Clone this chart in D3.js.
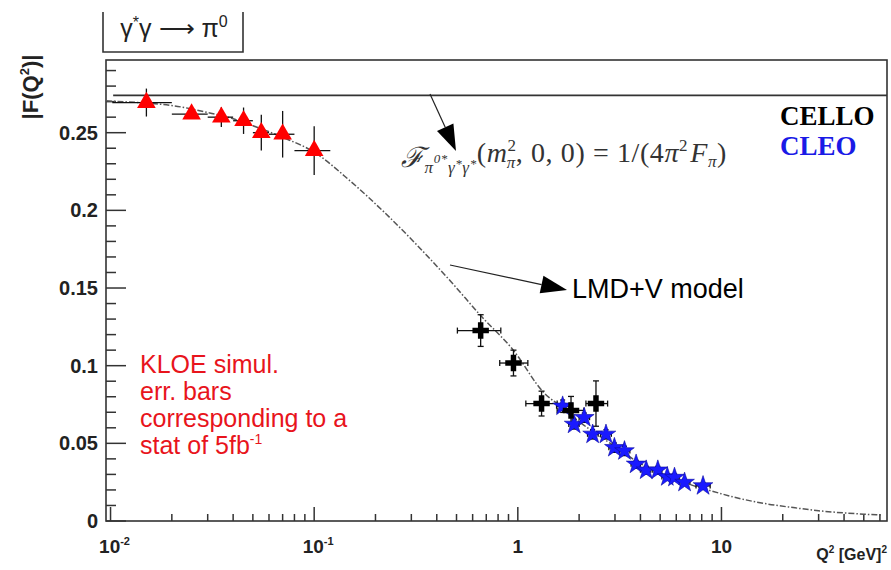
<!DOCTYPE html>
<html>
<head>
<meta charset="utf-8">
<script src="https://cdn.jsdelivr.net/npm/d3@7"></script>
<style>
body{margin:0;background:#fff;}
svg{display:block;}
text{font-family:"Liberation Sans",Arial,sans-serif;}
</style>
</head>
<body>
<div id="app"></div>
<script>
// KLOE simulation (red triangles)
const kloeQ2  = [0.015, 0.025, 0.035, 0.045, 0.055, 0.07, 0.1]
const kloeF   = [0.2694, 0.262, 0.260, 0.2577, 0.250, 0.249, 0.2385]
const kloeErr = [0.009, 0.003, 0.0064, 0.0085, 0.0115, 0.015, 0.0157]
const kloeLo  = [0.0102, 0.02, 0.03, 0.04, 0.05, 0.06, 0.08]
const kloeHi  = [0.02, 0.03, 0.04, 0.05, 0.06, 0.08, 0.12]

// CELLO (black crosses)
const celloQ2  = [0.657, 0.952, 1.308, 1.825, 2.42]
const celloF   = [0.1226, 0.1017, 0.0756, 0.0712, 0.0756]
const celloErr = [0.0102, 0.0083, 0.008, 0.009, 0.0146]
const celloLo  = [0.505, 0.815, 1.095, 1.56, 2.16]
const celloHi  = [0.825, 1.12, 1.56, 2.11, 2.76]

// CLEO (blue stars)
const cleoQ2  = [1.66, 1.89, 2.12, 2.33, 2.71, 2.98, 3.34, 3.81, 4.27, 4.87, 5.42, 5.88, 6.59, 8.12]
const cleoF   = [0.0739, 0.0622, 0.0665, 0.0558, 0.0558, 0.0472, 0.0451, 0.0365, 0.0327, 0.0327, 0.0284, 0.028, 0.0248, 0.0226]
const cleoErr = [0.004, 0.003, 0.003, 0.003, 0.003, 0.003, 0.003, 0.0025, 0.0025, 0.0025, 0.002, 0.002, 0.002, 0.002]
const cleoLo  = [1.55, 1.78, 2.0, 2.2, 2.55, 2.8, 3.15, 3.6, 4.0, 4.6, 5.1, 5.6, 6.2, 7.5]
const cleoHi  = [1.78, 2.0, 2.25, 2.48, 2.88, 3.15, 3.55, 4.0, 4.5, 5.1, 5.7, 6.2, 7.0, 8.8]

// LMD+V model curve
const modelQ2 = [0.0095, 0.015, 0.02, 0.03, 0.04, 0.05, 0.07, 0.1, 0.15, 0.22, 0.32, 0.47, 0.66, 0.95, 1.34, 1.7, 2.0, 2.5, 3.0, 4.0, 5.0, 6.5, 8.9, 12, 16.9, 22, 30, 40, 50, 62]
const modelF  = [0.2705, 0.269, 0.2675, 0.263, 0.259, 0.2545, 0.247, 0.2375, 0.219, 0.199, 0.1776, 0.154, 0.132, 0.110, 0.0827, 0.072, 0.064, 0.055, 0.048, 0.037, 0.031, 0.025, 0.0194, 0.0148, 0.0109, 0.0088, 0.0066, 0.0052, 0.0044, 0.0038]

// constant 1/(4 pi^2 F_pi)
const refValue = 0.274
const refStart = 0.0103

const yMajor = [0, 0.05, 0.1, 0.15, 0.2, 0.25]
const yLabels = ['0', '0.05', '0.1', '0.15', '0.2', '0.25']
const xMajor = [0.01, 0.1, 1, 10]
const xBase = ['10', '10', '1', '10']
const xSup = ['-2', '-1', '', '']

const kloeText = ['KLOE simul.', 'err. bars', 'corresponding to a', 'stat of 5fb']

const W = 891, H = 570
const padLeft = 106, padRight = 887, padTop = 60, padBottom = 521

const svg = d3.select('#app').append('svg')
    .attr('width', W).attr('height', H)
    .attr('viewBox', [0, 0, W, H])

const x = d3.scaleLog().domain([0.0095, 65]).range([padLeft, padRight])
const y = d3.scaleLinear().domain([0, 0.2968]).range([padBottom, padTop])

const frameColor = '#333'

// frame
svg.append('rect')
    .attr('x', padLeft).attr('y', padTop)
    .attr('width', padRight - padLeft).attr('height', padBottom - padTop)
    .attr('fill', 'none').attr('stroke', frameColor).attr('stroke-width', 1.6)

// y ticks (inward)
const yMinor = d3.range(0, 0.2961, 0.01)
svg.append('g').selectAll('line')
    .data(yMinor).enter().append('line')
    .attr('x1', padLeft).attr('x2', (d, i) => padLeft + (i % 5 == 0 ? 20 : 10))
    .attr('y1', d => y(d)).attr('y2', d => y(d))
    .attr('stroke', frameColor).attr('stroke-width', 1.5)

svg.append('g').selectAll('text')
    .data(yMajor).enter().append('text')
    .attr('x', padLeft - 8).attr('y', d => y(d) + 7)
    .attr('text-anchor', 'end')
    .style('font-size', '20px').style('font-weight', 'bold').style('fill', '#222')
    .text((d, i) => yLabels[i])

// x ticks (inward)
const xMinor = []
for (const dec of [0.01, 0.1, 1, 10]) {
    for (let k = 1; k <= 9; k++) {
        const v = dec * k
        if (v <= 65) xMinor.push({v: v, major: k == 1})
    }
}
svg.append('g').selectAll('line')
    .data(xMinor).enter().append('line')
    .attr('x1', d => x(d.v)).attr('x2', d => x(d.v))
    .attr('y1', padBottom).attr('y2', d => padBottom - (d.major ? 14 : 7))
    .attr('stroke', frameColor).attr('stroke-width', 1.5)

const xl = svg.append('g').selectAll('text')
    .data(xMajor).enter().append('text')
    .attr('x', (d, i) => x(d) + (xSup[i] ? 4 : 0)).attr('y', 553)
    .attr('text-anchor', 'middle')
    .style('font-size', '19px').style('font-weight', 'bold').style('fill', '#222')
xl.append('tspan').text((d, i) => xBase[i])
xl.append('tspan').attr('dy', -8).style('font-size', '11px').text((d, i) => xSup[i])

// axis titles
const xt = svg.append('text').attr('x', padRight).attr('y', 560)
    .attr('text-anchor', 'end')
    .style('font-size', '16px').style('font-weight', 'bold').style('fill', '#222')
xt.append('tspan').text('Q')
xt.append('tspan').attr('dy', -7).style('font-size', '10px').text('2')
xt.append('tspan').attr('dy', 7).text(' [GeV]')
xt.append('tspan').attr('dy', -7).style('font-size', '10px').text('2')

const yt = svg.append('text')
    .attr('transform', 'translate(38,87) rotate(-90)')
    .attr('text-anchor', 'middle')
    .style('font-size', '22px').style('font-weight', 'bold').style('fill', '#222')
yt.append('tspan').text('|F(Q')
yt.append('tspan').attr('dy', -9).style('font-size', '13px').text('2')
yt.append('tspan').attr('dy', 9).text(')|')

// title box
svg.append('path')
    .attr('d', 'M103,12 V52 H243 V12')
    .attr('fill', 'none').attr('stroke', frameColor).attr('stroke-width', 1.6)
const tt = svg.append('text').attr('x', 174).attr('y', 37)
    .attr('text-anchor', 'middle')
    .style('font-size', '25px').style('fill', '#222')
tt.append('tspan').text('γ')
tt.append('tspan').attr('dy', -9).style('font-size', '16px').text('*')
tt.append('tspan').attr('dy', 9).text('γ ⟶ π')
tt.append('tspan').attr('dy', -10).style('font-size', '16px').text('0')

// reference line
svg.append('line')
    .attr('x1', x(refStart)).attr('x2', padRight)
    .attr('y1', y(refValue)).attr('y2', y(refValue))
    .attr('stroke', frameColor).attr('stroke-width', 1.6)

// model curve
const model = modelQ2.map((q, i) => ({q: q, f: modelF[i]}))
svg.append('path')
    .datum(model)
    .attr('fill', 'none')
    .attr('stroke', '#555').attr('stroke-width', 1.5)
    .attr('stroke-dasharray', '6,2,1.5,2')
    .attr('d', d3.line().x(d => x(d.q)).y(d => y(d.f)).curve(d3.curveMonotoneX))

// error bars
function drawErrors(q2, f, err, lo, hi, cap, color) {
    const g = svg.append('g').attr('stroke', color).attr('stroke-width', 1.3)
    const pts = q2.map((q, i) => ({q: q, f: f[i], e: err[i], lo: lo[i], hi: hi[i]}))
    g.selectAll('line.v').data(pts).enter().append('line').attr('class', 'v')
        .attr('x1', d => x(d.q)).attr('x2', d => x(d.q))
        .attr('y1', d => y(d.f - d.e)).attr('y2', d => y(d.f + d.e))
    g.selectAll('line.h').data(pts).enter().append('line').attr('class', 'h')
        .attr('x1', d => x(d.lo)).attr('x2', d => x(d.hi))
        .attr('y1', d => y(d.f)).attr('y2', d => y(d.f))
    if (cap > 0) {
        for (const s of [-1, 1]) {
            g.selectAll('line.c' + s).data(pts).enter().append('line')
                .attr('x1', d => x(d.q) - cap).attr('x2', d => x(d.q) + cap)
                .attr('y1', d => y(d.f + s * d.e)).attr('y2', d => y(d.f + s * d.e))
            g.selectAll('line.d' + s).data(pts).enter().append('line')
                .attr('x1', d => x(s < 0 ? d.lo : d.hi)).attr('x2', d => x(s < 0 ? d.lo : d.hi))
                .attr('y1', d => y(d.f) - cap).attr('y2', d => y(d.f) + cap)
        }
    }
    return pts
}

const kloe = drawErrors(kloeQ2, kloeF, kloeErr, kloeLo, kloeHi, 0, '#111')
const cello = drawErrors(celloQ2, celloF, celloErr, celloLo, celloHi, 3, '#111')
const cleo = drawErrors(cleoQ2, cleoF, cleoErr, cleoLo, cleoHi, 2.5, '#111')

svg.append('g').selectAll('path')
    .data(cleo).enter().append('path')
    .attr('transform', d => `translate(${x(d.q)},${y(d.f)})`)
    .attr('d', d3.symbol(d3.symbolStar, 120))
    .attr('fill', '#1a1aff').attr('stroke', '#0a0aa0').attr('stroke-width', 0.6)

svg.append('g').selectAll('path')
    .data(cello).enter().append('path')
    .attr('transform', d => `translate(${x(d.q)},${y(d.f)})`)
    .attr('d', d3.symbol(d3.symbolCross, 150))
    .attr('fill', '#000')

svg.append('g').selectAll('path')
    .data(kloe).enter().append('path')
    .attr('transform', d => `translate(${x(d.q)},${y(d.f)})`)
    .attr('d', d3.symbol(d3.symbolTriangle, 150))
    .attr('fill', '#ff0000')

// arrows
function arrow(x1, y1, x2, y2, len, wid) {
    const a = Math.atan2(y2 - y1, x2 - x1)
    const bx = x2 - len * Math.cos(a), by = y2 - len * Math.sin(a)
    svg.append('line').attr('x1', x1).attr('y1', y1).attr('x2', bx).attr('y2', by)
        .attr('stroke', '#222').attr('stroke-width', 1.2)
    const px = Math.sin(a) * wid / 2, py = -Math.cos(a) * wid / 2
    svg.append('path')
        .attr('d', `M${x2},${y2}L${bx + px},${by + py}L${bx - px},${by - py}Z`)
        .attr('fill', '#000')
}
arrow(430, 94, 456, 151, 26, 18)
arrow(450, 265, 567, 290, 26, 18)

svg.append('text').attr('x', 572).attr('y', 298)
    .style('font-size', '27px').style('fill', '#000')
    .text('LMD+V model')

// formula
const fm = svg.append('text').attr('x', 401).attr('y', 167)
    .style('font-family', '"Liberation Serif","Times New Roman",serif')
    .style('font-size', '28px').style('fill', '#333').style('font-style', 'italic')
    .style('letter-spacing', '0.6px')
fm.append('tspan').text('ℱ')
fm.append('tspan').attr('dy', 6).style('font-size', '17px').text('π')
fm.append('tspan').attr('dy', -10).style('font-size', '13px').text('0*')
fm.append('tspan').attr('dy', 10).style('font-size', '17px').text('γ')
fm.append('tspan').attr('dy', -5).style('font-size', '13px').text('*')
fm.append('tspan').attr('dy', 5).style('font-size', '17px').text('γ')
fm.append('tspan').attr('dy', -5).style('font-size', '13px').text('*')
fm.append('tspan').attr('dy', -6).style('font-style', 'normal').text('(')
fm.append('tspan').text('m')
fm.append('tspan').attr('dy', -11).style('font-size', '17px').style('font-style', 'normal').text('2')
fm.append('tspan').attr('dx', -10).attr('dy', 17).style('font-size', '17px').text('π')
fm.append('tspan').attr('dy', -6).style('font-style', 'normal').text(', 0, 0) = 1/(4')
fm.append('tspan').text('π')
fm.append('tspan').attr('dy', -11).style('font-size', '17px').style('font-style', 'normal').text('2')
fm.append('tspan').attr('dx', 2).attr('dy', 11).text('F')
fm.append('tspan').attr('dy', 5).style('font-size', '17px').text('π')
fm.append('tspan').attr('dy', -5).style('font-style', 'normal').text(')')

// legend
svg.append('text').attr('x', 780).attr('y', 125)
    .style('font-family', '"Liberation Serif","Times New Roman",serif')
    .style('font-size', '27px').style('font-weight', 'bold').style('fill', '#000')
    .text('CELLO')
svg.append('text').attr('x', 780).attr('y', 155)
    .style('font-family', '"Liberation Serif","Times New Roman",serif')
    .style('font-size', '27px').style('font-weight', 'bold').style('fill', '#1a1ae6')
    .text('CLEO')

// KLOE note
const kn = svg.append('g').style('font-size', '25px').style('fill', '#e8141c')
kn.selectAll('text').data(kloeText).enter().append('text')
    .attr('x', 140).attr('y', (d, i) => 373 + i * 27)
    .text(d => d)
kn.select('text:last-child').append('tspan')
    .attr('dy', -10).style('font-size', '14px').text('-1')
</script>
</body>
</html>
